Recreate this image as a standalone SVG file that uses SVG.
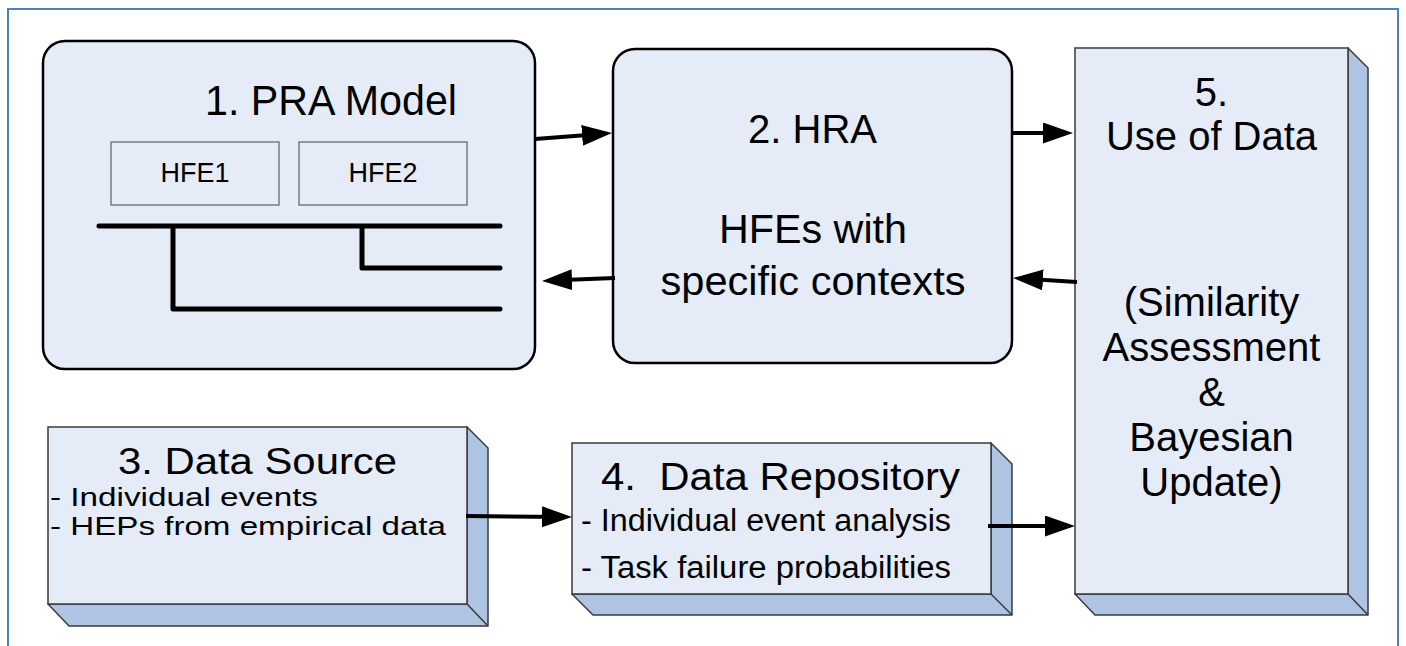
<svg xmlns="http://www.w3.org/2000/svg" width="1406" height="646" viewBox="0 0 1406 646">
<style>
text{font-family:"Liberation Sans",Arial,sans-serif;fill:#000}
.rbox{fill:#e6ecf7;stroke:#000;stroke-width:2.5}
.front{fill:#e6ecf7;stroke:#3a3a3a;stroke-width:1.5}
.side{fill:#afc4e2;stroke:#3a3a3a;stroke-width:1.5;stroke-linejoin:round}
.hfe{fill:#e6ecf7;stroke:#6b6b6b;stroke-width:1.3}
.tree{fill:none;stroke:#000;stroke-width:5;stroke-linecap:round;stroke-linejoin:round}
.conn{fill:none;stroke:#000;stroke-width:4;marker-end:url(#ah)}
.t40{font-size:40px}
.mid{text-anchor:middle}
</style>
<defs>
<marker id="ah" markerUnits="userSpaceOnUse" markerWidth="32" markerHeight="24" refX="22" refY="10.5" orient="auto">
<path d="M0,0 L30,10.5 L0,21 z" fill="#000"/>
</marker>
</defs>
<rect x="8" y="9" width="1390" height="700" fill="#fff" stroke="#4f81bd" stroke-width="2"/>

<g id="node1">
<rect class="rbox" x="43" y="41" width="492" height="328" rx="22" ry="22"/>
<text x="205" y="115" font-size="42" textLength="252" lengthAdjust="spacingAndGlyphs">1. PRA Model</text>
<rect class="hfe" x="111" y="142" width="168" height="63"/>
<text class="mid" x="195" y="182" font-size="27">HFE1</text>
<rect class="hfe" x="299" y="142" width="168" height="63"/>
<text class="mid" x="383" y="182" font-size="27">HFE2</text>
<path class="tree" d="M99,226 H500 M173,226 V309 H500 M362,226 V268 H500"/>
</g>

<g id="node2">
<rect class="rbox" x="613" y="49" width="399" height="314" rx="22" ry="22"/>
<text class="t40 mid" x="812.5" y="143">2. HRA</text>
<text class="t40 mid" x="813" y="243" textLength="188" lengthAdjust="spacingAndGlyphs">HFEs with</text>
<text class="t40 mid" x="813" y="295" textLength="305" lengthAdjust="spacingAndGlyphs">specific contexts</text>
</g>

<g id="node3">
<path class="side" d="M467,427 L488,448 L488,626 L69,626 L48,604 L467,604 Z"/>
<path class="side" d="M467,604 L488,626" fill="none"/>
<rect class="front" x="48" y="427" width="419" height="177"/>
<text class="mid" x="257.5" y="474" font-size="37" textLength="279" lengthAdjust="spacingAndGlyphs">3. Data Source</text>
<text x="50" y="506" font-size="26" textLength="268" lengthAdjust="spacingAndGlyphs">- Individual events</text>
<text x="50" y="535" font-size="26" textLength="396" lengthAdjust="spacingAndGlyphs">- HEPs from empirical data</text>
</g>

<g id="node4">
<path class="side" d="M991,443 L1012,464 L1012,615 L593,615 L572,594 L991,594 Z"/>
<path class="side" d="M991,594 L1012,615" fill="none"/>
<rect class="front" x="572" y="443" width="419" height="151"/>
<text x="601" y="490" font-size="38" textLength="359" lengthAdjust="spacingAndGlyphs" xml:space="preserve">4.  Data Repository</text>
<text x="581" y="531" font-size="31" textLength="370" lengthAdjust="spacingAndGlyphs">- Individual event analysis</text>
<text x="581" y="578" font-size="31" textLength="370" lengthAdjust="spacingAndGlyphs">- Task failure probabilities</text>
</g>

<g id="node5">
<path class="side" d="M1348,48 L1368,68 L1368,615 L1095,615 L1075,594 L1348,594 Z"/>
<path class="side" d="M1348,594 L1368,615" fill="none"/>
<rect class="front" x="1075" y="48" width="273" height="546"/>
<text class="t40 mid" x="1211.5" y="106">5.</text>
<text class="t40 mid" x="1211.5" y="150">Use of Data</text>
<text class="t40 mid" x="1211.5" y="316">(Similarity</text>
<text class="t40 mid" x="1211.5" y="361">Assessment</text>
<text class="t40 mid" x="1211.5" y="406">&amp;</text>
<text class="t40 mid" x="1211.5" y="451">Bayesian</text>
<text class="t40 mid" x="1211.5" y="496">Update)</text>
</g>

<g id="connectors">
<path class="conn" d="M535,139 L604,133.7"/>
<path class="conn" d="M1012,133 L1065,133"/>
<path class="conn" d="M1077,282 L1021,278.5"/>
<path class="conn" d="M615,278 L550,280.6"/>
<path class="conn" d="M466,516 L564,517"/>
<path class="conn" d="M988,526 L1067,526"/>
</g>
</svg>
